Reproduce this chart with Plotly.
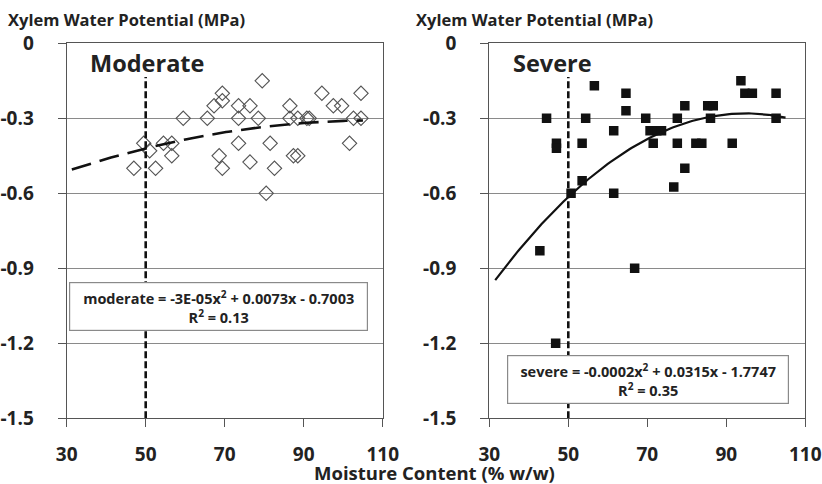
import numpy as np
import plotly.graph_objects as go

# ---------------- data ----------------
moderate_x = [47, 49.5, 51, 52.5, 54.5, 56.6, 56.6, 59.5, 65.6, 67.3, 69.4, 69.4, 68.6, 69.4,
              73.5, 73.5, 73.5, 76.4, 78.5, 76.4, 79.5, 81.5, 82.6, 80.5, 86.5, 86.5, 88.5,
              90.8, 91.4, 87.4, 88.5, 94.6, 97.5, 99.6, 101.6, 102.6, 104.5, 104.5]
moderate_y = [-0.50, -0.40, -0.43, -0.50, -0.40, -0.40, -0.45, -0.30, -0.30, -0.25, -0.23, -0.20,
              -0.45, -0.50, -0.25, -0.30, -0.40, -0.25, -0.30, -0.475, -0.15, -0.40, -0.50, -0.60,
              -0.25, -0.30, -0.30, -0.30, -0.30, -0.45, -0.45, -0.20, -0.25, -0.25, -0.40, -0.30,
              -0.30, -0.20]

severe_x = [44.5, 47, 47, 56.6, 54.4, 53.5, 53.5, 50.7, 61.5, 61.5, 64.6, 64.6, 69.6, 70.7,
            72.4, 73.6, 71.5, 77.6, 77.6, 76.7, 79.5, 79.5, 82.3, 83.8, 85.3, 86.7, 86.0,
            91.5, 93.7, 94.7, 96.6, 102.6, 102.6, 42.8, 66.8, 46.8]
severe_y = [-0.30, -0.40, -0.42, -0.17, -0.30, -0.40, -0.55, -0.60, -0.35, -0.60, -0.20, -0.27,
            -0.30, -0.35, -0.35, -0.35, -0.40, -0.30, -0.40, -0.575, -0.25, -0.50, -0.40, -0.40,
            -0.25, -0.25, -0.30, -0.40, -0.15, -0.20, -0.20, -0.20, -0.30, -0.83, -0.90, -1.20]

# fitted quadratic trendlines (a, b, c)
moderate_fit = [-3.4e-5, 0.0073, -0.7003]
severe_fit = [-1.66e-4, 0.0315, -1.7747]
moderate_fit_range = [31.3, 105]
severe_fit_range = [31.5, 105]

threshold_x = [50, 50]
threshold_y = [-1.5, -0.135]

x_ticks = [30, 50, 70, 90, 110]
y_ticks = [0, -0.3, -0.6, -0.9, -1.2, -1.5]
y_ticklabels = ["0", "-0.3", "-0.6", "-0.9", "-1.2", "-1.5"]

panel_names = ["Moderate", "Severe"]
y_title = "Xylem Water Potential (MPa)"
x_title = "Moisture Content (% w/w)"
eq_moderate = "moderate = -3E-05x<sup>2</sup> + 0.0073x - 0.7003<br>R<sup>2</sup> = 0.13"
eq_severe = "severe = -0.0002x<sup>2</sup> + 0.0315x - 1.7747<br>R<sup>2</sup> = 0.35"

# ---------------- figure ----------------
W, H = 822, 484
FONT = "Open Sans"
TXT = "#222222"

def fit_curve(coef, rng):
    xs = np.linspace(rng[0], rng[1], 120)
    return xs, np.polyval(coef, xs)

fig = go.Figure()

# Left panel
fig.add_trace(go.Scatter(x=moderate_x, y=moderate_y, mode="markers", xaxis="x", yaxis="y",
                         marker=dict(symbol="diamond-open", size=11, color="#555555",
                                     line=dict(width=1.1, color="#555555")),
                         showlegend=False))
mx, my = fit_curve(moderate_fit, moderate_fit_range)
fig.add_trace(go.Scatter(x=mx, y=my, mode="lines", xaxis="x", yaxis="y",
                         line=dict(color="#111111", width=2.6, dash="20px,9px"),
                         showlegend=False))
fig.add_trace(go.Scatter(x=threshold_x, y=threshold_y, mode="lines", xaxis="x", yaxis="y",
                         line=dict(color="#111111", width=2.6, dash="7px,3px"),
                         showlegend=False))

# Right panel
fig.add_trace(go.Scatter(x=severe_x, y=severe_y, mode="markers", xaxis="x2", yaxis="y2",
                         marker=dict(symbol="square", size=9.5, color="#111111",
                                     line=dict(width=0)),
                         showlegend=False))
sx, sy = fit_curve(severe_fit, severe_fit_range)
fig.add_trace(go.Scatter(x=sx, y=sy, mode="lines", xaxis="x2", yaxis="y2",
                         line=dict(color="#111111", width=2.2),
                         showlegend=False))
fig.add_trace(go.Scatter(x=threshold_x, y=threshold_y, mode="lines", xaxis="x2", yaxis="y2",
                         line=dict(color="#111111", width=2.6, dash="7px,3px"),
                         showlegend=False))

ydom = [65.7 / H, 440.7 / H]
xdom1 = [66.7 / W, 382.7 / W]
xdom2 = [489.3 / W, 805.3 / W]

tickfont = dict(family=FONT, size=19, color=TXT, weight="bold")

def xaxis(dom, anchor):
    return dict(domain=dom, anchor=anchor, range=[30, 110], tickvals=x_ticks,
                showgrid=False, zeroline=False, showline=True, linecolor="#555555",
                linewidth=1.3, mirror=True, ticks="outside", ticklen=8, tickcolor="#555555",
                tickwidth=1.3, tickfont=tickfont, ticklabelstandoff=11,
                ticklabeloverflow="allow", automargin=False, fixedrange=True)

def yaxis(dom, anchor):
    return dict(domain=dom, anchor=anchor, range=[-1.5, 0], tickvals=y_ticks,
                ticktext=y_ticklabels, showgrid=True, gridcolor="#8a8a8a", gridwidth=1,
                zeroline=False, showline=True, linecolor="#555555", linewidth=1.3,
                mirror=True, ticks="outside", ticklen=8, tickcolor="#555555", tickwidth=1.3,
                tickfont=tickfont, ticklabelstandoff=20, ticklabeloverflow="allow",
                automargin=False, fixedrange=True)

def pos(px, py):
    return px / W, 1 - py / H

annotations = []
for tx in (6, 414):
    x, y = pos(tx, 20)
    annotations.append(dict(text=y_title, x=x, y=y, xref="paper", yref="paper",
                            xanchor="left", yanchor="middle", showarrow=False,
                            font=dict(family=FONT, size=16.5, color=TXT, weight="bold")))
for name, tx in zip(panel_names, (88, 511)):
    x, y = pos(tx, 63)
    annotations.append(dict(text=name, x=x, y=y, xref="paper", yref="paper",
                            xanchor="left", yanchor="middle", showarrow=False,
                            font=dict(family=FONT, size=23.5, color=TXT, weight="bold")))
x, y = pos(435, 472)
annotations.append(dict(text=x_title, x=x, y=y, xref="paper", yref="paper",
                        xanchor="center", yanchor="middle", showarrow=False,
                        font=dict(family=FONT, size=18.5, color=TXT, weight="bold")))
for txt, cx, cy, w in ((eq_moderate, 218.5, 306, 293), (eq_severe, 648, 379, 276)):
    x, y = pos(cx, cy)
    annotations.append(dict(text=txt, x=x, y=y, xref="paper", yref="paper",
                            xanchor="center", yanchor="middle", showarrow=False,
                            align="center", width=w, height=43, bgcolor="white",
                            bordercolor="#8a8a8a", borderwidth=1.2, borderpad=2,
                            font=dict(family=FONT, size=14.5, color=TXT, weight="bold")))

fig.update_layout(
    width=W, height=H, margin=dict(l=0, r=0, t=0, b=0, autoexpand=False),
    paper_bgcolor="white", plot_bgcolor="white",
    xaxis=xaxis(xdom1, "y"), yaxis=yaxis(ydom, "x"),
    xaxis2=xaxis(xdom2, "y2"), yaxis2=yaxis(ydom, "x2"),
    annotations=annotations, showlegend=False,
)

fig.write_html("out.html", config={"displayModeBar": False})
